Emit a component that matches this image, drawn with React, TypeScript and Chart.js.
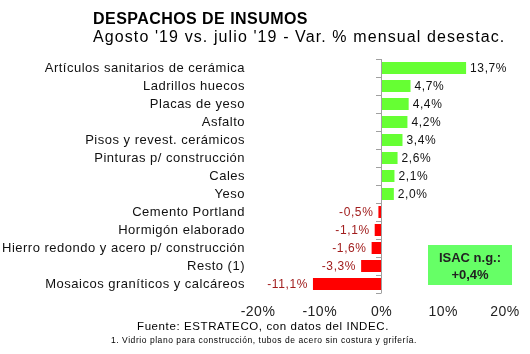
import React, { useEffect, useRef } from "react";
import { Chart, registerables } from "chart.js";

Chart.register(...registerables);

const categories = [
  "Artículos sanitarios de cerámica",
  "Ladrillos huecos",
  "Placas de yeso",
  "Asfalto",
  "Pisos y revest. cerámicos",
  "Pinturas p/ construcción",
  "Cales",
  "Yeso",
  "Cemento Portland",
  "Hormigón elaborado",
  "Hierro redondo y acero p/ construcción",
  "Resto (1)",
  "Mosaicos graníticos y calcáreos",
];
const values = [13.7, 4.7, 4.4, 4.2, 3.4, 2.6, 2.1, 2.0, -0.5, -1.1, -1.6, -3.3, -11.1];
const xTicks = [-20, -10, 0, 10, 20];
const titleText = "DESPACHOS DE INSUMOS";
const subtitleText = "Agosto '19 vs. julio '19 - Var. % mensual desestac.";
const sourceText = "Fuente: ESTRATECO, con datos del INDEC.";
const noteText = "1. Vidrio plano para construcción, tubos de acero sin costura y grifería.";
const boxLines = ["ISAC n.g.:", "+0,4%"];

const FONT = "'Liberation Sans', Arial, sans-serif";
const fmt = (v: number) => v.toFixed(1).replace(".", ",") + "%";

const decorPlugin = {
  id: "decor",
  beforeDraw(chart: any) {
    (chart.ctx as any).letterSpacing = "0.5px";
  },
  afterDatasetsDraw(chart: any) {
    const { ctx, chartArea, scales } = chart;
    const x = scales.x;
    const y = scales.y;
    const x0 = x.getPixelForValue(0);
    ctx.save();
    ctx.strokeStyle = "#a0a0a0";
    ctx.lineWidth = 1;
    ctx.beginPath();
    ctx.moveTo(Math.round(x0) + 0.5, chartArea.top);
    ctx.lineTo(Math.round(x0) + 0.5, chartArea.bottom);
    const n = categories.length;
    const step = (chartArea.bottom - chartArea.top) / n;
    for (let i = 0; i <= n; i++) {
      const yy = Math.round(y.getPixelForValue(0) - step / 2 + i * step) + 0.5;
      ctx.moveTo(Math.round(x0) - 5, yy);
      ctx.lineTo(Math.round(x0) + 0.5, yy);
    }
    ctx.stroke();
    ctx.font = `12px ${FONT}`;
    (ctx as any).letterSpacing = "0.6px";
    ctx.textBaseline = "middle";
    const meta = chart.getDatasetMeta(0);
    meta.data.forEach((bar: any, i: number) => {
      const v = values[i];
      if (v >= 0) {
        ctx.fillStyle = "#111111";
        ctx.textAlign = "left";
        ctx.fillText(fmt(v), bar.x + 4, bar.y + 1);
      } else {
        ctx.fillStyle = "#a11d1d";
        ctx.textAlign = "right";
        ctx.fillText(fmt(v), bar.x - 5, bar.y + 1);
      }
    });
    ctx.textAlign = "left";
    ctx.textBaseline = "alphabetic";
    ctx.fillStyle = "#000000";
    ctx.font = `bold 16px ${FONT}`;
    (ctx as any).letterSpacing = "0.45px";
    ctx.fillText(titleText, 93, 24);
    ctx.font = `16px ${FONT}`;
    (ctx as any).letterSpacing = "1.1px";
    ctx.fillText(subtitleText, 93, 42);
    ctx.textAlign = "center";
    ctx.font = `11.5px ${FONT}`;
    (ctx as any).letterSpacing = "0.6px";
    ctx.fillText(sourceText, 263, 330);
    ctx.font = `8.5px ${FONT}`;
    (ctx as any).letterSpacing = "0.55px";
    ctx.fillText(noteText, 264, 343);
    (ctx as any).letterSpacing = "0px";
    ctx.fillStyle = "#66ff66";
    ctx.fillRect(428, 245, 84, 40);
    ctx.fillStyle = "#222222";
    ctx.font = `bold 13px ${FONT}`;
    ctx.fillText(boxLines[0], 470, 262);
    ctx.fillText(boxLines[1], 470, 279);
    ctx.restore();
  },
};

export default function App() {
  const ref = useRef<HTMLCanvasElement>(null);
  useEffect(() => {
    const chart = new Chart(ref.current!, {
      type: "bar",
      data: {
        labels: categories,
        datasets: [
          {
            data: values,
            backgroundColor: values.map((v) => (v >= 0 ? "#66ff33" : "#ff0000")),
            borderWidth: 0,
            barPercentage: 0.67,
            categoryPercentage: 1,
          },
        ],
      },
      options: {
        indexAxis: "y",
        animation: false,
        responsive: false,
        maintainAspectRatio: false,
        layout: { padding: { top: 59, right: 22, left: 0, bottom: 0 } },
        plugins: { legend: { display: false }, tooltip: { enabled: false }, title: { display: false } },
        scales: {
          x: {
            min: -20,
            max: 20,
            afterBuildTicks: (s: any) => {
              s.ticks = xTicks.map((v) => ({ value: v }));
            },
            afterFit: (s: any) => {
              s.height = 61;
            },
            grid: { display: false, drawTicks: false },
            border: { display: false },
            ticks: {
              padding: 11,
              color: "#222222",
              font: { family: FONT, size: 14 },
              callback: (v: any) => v + "%",
            },
          },
          y: {
            afterFit: (s: any) => {
              s.width = 258;
            },
            grid: { display: false, drawTicks: false },
            border: { display: false },
            ticks: {
              padding: 13,
              color: "#111111",
              font: { family: FONT, size: 13 },
              autoSkip: false,
            },
          },
        },
      },
      plugins: [decorPlugin],
    });
    return () => chart.destroy();
  }, []);
  return (
    <div style={{ position: "absolute", left: 0, top: 0, width: 530, height: 354, background: "#fff" }}>
      <canvas ref={ref} width={530} height={354} style={{ width: 530, height: 354 }} />
    </div>
  );
}
